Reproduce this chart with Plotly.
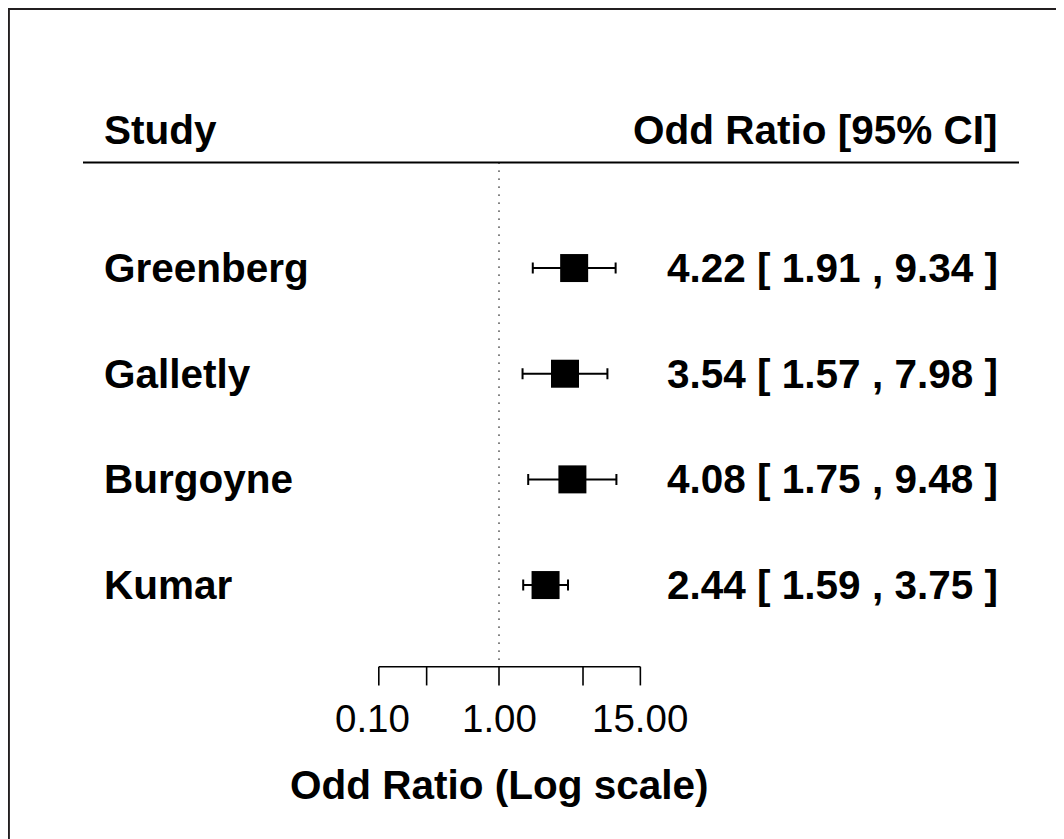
import numpy as np
import plotly.graph_objects as go

# ---- data ----
studies = ["Greenberg", "Galletly", "Burgoyne", "Kumar"]
odds_ratio = [4.22, 3.54, 4.08, 2.44]
ci_low = [1.91, 1.57, 1.75, 1.59]
ci_high = [9.34, 7.98, 9.48, 3.75]
row_pos = [4, 3, 2, 1]
tick_values = [0.10, 0.25, 1.00, 5.00, 15.00]
tick_labels = ["0.10", "", "1.00", "", "15.00"]

W, H = 1064, 839
FONT = "Arial, Liberation Sans, sans-serif"
BLACK = "#000000"

x = np.log(odds_ratio)
xlo = np.log(ci_low)
xhi = np.log(ci_high)

fig = go.Figure()
fig.add_trace(go.Scatter(
    x=x, y=row_pos, mode="markers",
    marker=dict(symbol="square", size=28, color=BLACK, line=dict(width=0)),
    error_x=dict(type="data", symmetric=False,
                 array=list(xhi - x), arrayminus=list(x - xlo),
                 color=BLACK, thickness=2, width=5.5),
    hoverinfo="skip", showlegend=False,
))

shapes = []
# reference (null) line at OR = 1
shapes.append(dict(type="line", xref="x", yref="y", x0=0, x1=0, y0=5.0, y1=0.27,
                   line=dict(color=BLACK, width=1.3, dash="1.3px,6.7px")))
# header separator line
shapes.append(dict(type="line", xref="paper", yref="y", x0=75 / W, x1=1011 / W,
                   y0=5.0, y1=5.0, line=dict(color=BLACK, width=2)))
# custom axis line and ticks
ax_y, tick_bottom = 0.227, 0.05
shapes.append(dict(type="line", xref="x", yref="y",
                   x0=np.log(tick_values[0]), x1=np.log(tick_values[-1]),
                   y0=ax_y, y1=ax_y, line=dict(color=BLACK, width=1.6)))
for tv in tick_values:
    shapes.append(dict(type="line", xref="x", yref="y", x0=np.log(tv), x1=np.log(tv),
                       y0=ax_y, y1=tick_bottom, line=dict(color=BLACK, width=1.6)))
# partial frame (top and left edges)
shapes.append(dict(type="line", xref="paper", yref="paper", x0=0, x1=1.0,
                   y0=1 - 0.8 / H, y1=1 - 0.8 / H, line=dict(color="#231f20", width=2.2)))
shapes.append(dict(type="line", xref="paper", yref="paper", x0=0.8 / W, x1=0.8 / W,
                   y0=1, y1=0, line=dict(color="#231f20", width=2.2)))

annotations = []
bold = dict(family=FONT, size=40.5, color=BLACK, weight="bold")
annotations.append(dict(text="<b>Study</b>", xref="paper", yref="y", x=94 / W, y=5.306,
                        xanchor="left", yanchor="middle", showarrow=False, font=bold))
annotations.append(dict(text="<b>Odd Ratio [95% CI]</b>", xref="paper", yref="y", x=992 / W,
                        y=5.306, xanchor="right", yanchor="middle", showarrow=False, font=bold))
for name, o, lo, hi, yy in zip(studies, odds_ratio, ci_low, ci_high, row_pos):
    annotations.append(dict(text=f"<b>{name}</b>", xref="paper", yref="y", x=94 / W, y=yy,
                            xanchor="left", yanchor="middle", showarrow=False, font=bold))
    annotations.append(dict(text=f"<b>{o:.2f} [ {lo:.2f} , {hi:.2f} ]</b>", xref="paper",
                            yref="y", x=992 / W, y=yy, xanchor="right", yanchor="middle",
                            showarrow=False, font=bold))
for i, (tv, tl) in enumerate(zip(tick_values, tick_labels)):
    if tl:
        annotations.append(dict(text=tl, xref="x", yref="y", x=np.log(tv), y=-0.26,
                                xanchor="center", yanchor="middle", showarrow=False,
                                xshift=-6 if i == 0 else 0,
                                font=dict(family=FONT, size=38.5, color=BLACK)))
annotations.append(dict(text="<b>Odd Ratio (Log scale)</b>", xref="x", yref="y", x=0.0, y=-0.89,
                        xanchor="center", yanchor="middle", showarrow=False, font=bold))

px_per_unit = 52.2
x0_px = 491
y_top, y_bot = 6.461, -1.479

fig.update_layout(
    width=W, height=H,
    margin=dict(l=0, r=0, t=0, b=0),
    paper_bgcolor="white", plot_bgcolor="white",
    xaxis=dict(visible=False, range=[-x0_px / px_per_unit, (W - x0_px) / px_per_unit],
               fixedrange=True),
    yaxis=dict(visible=False, range=[y_bot, y_top], fixedrange=True),
    shapes=shapes, annotations=annotations,
    showlegend=False,
)

fig.write_html("out.html")
